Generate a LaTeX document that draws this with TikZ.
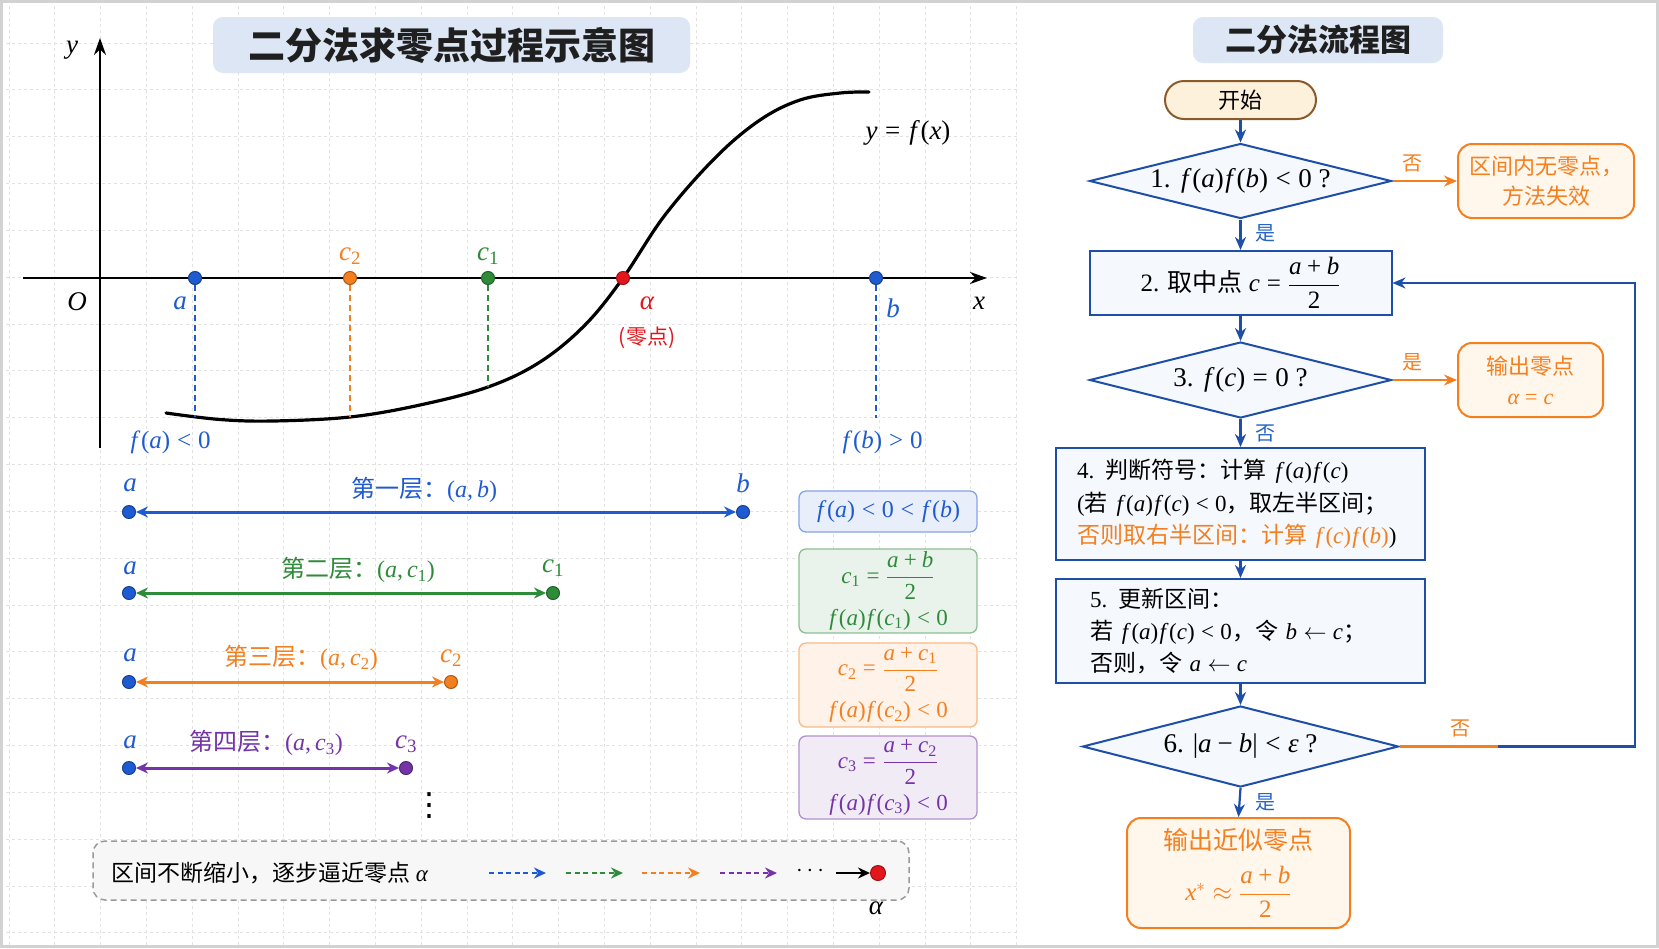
\RequirePackage{fix-cm}
\documentclass[tikz,border=0pt]{standalone}
\usepackage{amsmath}
\usepackage{fontspec}
\setmainfont{Liberation Serif}
\newfontfamily\zh{Noto Sans CJK SC}
\newfontfamily\djv{DejaVu Sans}
\edef\tmpdecl{\noexpand\DeclareSymbolFont{tit}{TU}{\rmdefault}{m}{it}\noexpand\DeclareSymbolFont{trm}{TU}{\rmdefault}{m}{n}}
\tmpdecl
\begingroup\lccode`\~=`\f \lowercase{\endgroup\def~}{\mkern1mu\Umathchar"7 \symtit `f\mkern2.5mu}
\AtBeginDocument{%
  \count255=`a
  \loop \Umathcode\count255="7 \symtit \count255 \ifnum\count255<`z \advance\count255 by 1 \repeat
  \count255=`A
  \loop \Umathcode\count255="7 \symtit \count255 \ifnum\count255<`Z \advance\count255 by 1 \repeat
  \count255=`0
  \loop \Umathcode\count255="7 \symtrm \count255 \ifnum\count255<`9 \advance\count255 by 1 \repeat
  \Umathcode`\(="4 \symtrm `\(
  \Umathcode`\)="5 \symtrm `\)
  \Umathcode`\,="6 \symtrm `\,
  \Umathcode`\+="2 \symtrm `\+
  \Umathcode`\=="3 \symtrm `\=
  \Umathcode`\<="3 \symtrm `\<
  \Umathcode`\>="3 \symtrm `\>
  \Umathcode`\-="2 \symtrm "2212
  \Umathcode`\|="0 \symtrm `\|
  \Umathchardef\alpha="7 \symtit "03B1
  \Umathchardef\varepsilon="7 \symtit "03B5
  \mathcode`\f="8000
}
\newcommand\z[1]{{\zh #1}}
\newcommand\fsz[2]{\fontsize{#1}{#2}\selectfont}
\usetikzlibrary{arrows.meta,shapes.geometric,calc}
\definecolor{cblue}{HTML}{1F5BD0}
\definecolor{cgreen}{HTML}{2E8B3A}
\definecolor{corange}{HTML}{F47F1F}
\definecolor{cpurple}{HTML}{7434A8}
\definecolor{cred}{HTML}{E3161B}
\definecolor{fblue}{HTML}{1D4EA8}
\definecolor{lblblue}{HTML}{2563C4}
\definecolor{titlebg}{HTML}{DCE6F4}
\definecolor{gridc}{HTML}{E2E2E2}
\definecolor{framec}{HTML}{D2D2D2}
\definecolor{flowfill}{HTML}{F5F8FD}
\definecolor{ofill}{HTML}{FFF6EC}
\definecolor{startfill}{HTML}{FDF1DC}
\definecolor{startdraw}{HTML}{8B5A2B}
\definecolor{dboxfill}{HTML}{F7F7F7}
\definecolor{dboxdraw}{HTML}{9A9A9A}
\tikzset{
  lbl/.style={inner sep=0pt, font={\fsz{27}{30}}},
  dotn/.style={circle, inner sep=0pt, minimum size=13pt, fill=#1, draw=#1!70!black, line width=1pt},
  gridline/.style={gridc, line width=0.8pt, dash pattern=on 3pt off 3pt},
  axisline/.style={line width=2.6pt, -{Stealth[length=17pt,width=12pt]}},
  drop/.style={#1, line width=1.6pt, dash pattern=on 6pt off 4pt},
  layer/.style={#1, line width=3pt, {Stealth[length=12pt,width=11pt]}-{Stealth[length=12pt,width=11pt]}},
  infobox/.style={draw=#1!55, fill=#1!10, rounded corners=7pt, line width=1.3pt, minimum width=178pt, text=#1, font={\fsz{23}{25}}, align=center, inner sep=0pt},
  dasharr/.style={#1, line width=2.2pt, dash pattern=on 5pt off 3.5pt, -{Stealth[length=12pt,width=11pt]}},
  titlebox/.style={rounded corners=10pt, fill=titlebg, inner sep=0pt, text=black!88},
  flow/.style={fblue, line width=2.2pt},
  farrow/.style={flow, -{Stealth[length=13pt,width=11pt]}},
  oarrow/.style={corange, line width=2.2pt, -{Stealth[length=13pt,width=11pt]}},
  dia/.style={diamond, draw=fblue, fill=flowfill, line width=2pt, inner sep=0pt, aspect=4, font={\fsz{27}{29}}},
  pbox/.style={rectangle, draw=fblue, fill=flowfill, line width=2pt, inner sep=0pt, font={\fsz{25}{27}}},
  obox/.style={rectangle, rounded corners=14pt, draw=corange, fill=ofill, line width=2pt, text=corange, align=center, inner sep=0pt, font={\fsz{22}{30}}},
  yn/.style={inner sep=0pt, font={\zh\fsz{20}{24}}},
}
\begin{document}
\begin{tikzpicture}[x=1pt,y=-1pt]
\useasboundingbox (0,0) rectangle (1659,948);
\fill[white] (0,0) rectangle (1659,948);
% grid (left panel)
\begin{scope}
\clip (0,0) rectangle (1019,948);
\foreach \i in {0,...,22} \draw[gridline] ({9+45.8*\i},0) -- ({9+45.8*\i},948);
\foreach \j in {0,...,19} \draw[gridline] (0,{43+46.83*\j}) -- (1019,{43+46.83*\j});
\end{scope}
\draw[framec, line width=3pt] (1.5,1.5) rectangle (1657.5,946.5);

% ===== left: title
\node[titlebox, minimum width=477pt, minimum height=56pt, font={\zh\bfseries\fsz{37}{40}}] (t1) at (451.5,45) {二分法求零点过程示意图};

% axes
\coordinate (yb) at (100,448); \coordinate (yt) at (100,38);
\coordinate (xl) at (23,278); \coordinate (xr) at (987,278);
\draw[axisline] (yb) -- (yt);
\draw[axisline] (xl) -- (xr);

% curve
\draw[line width=3.2pt, line cap=round] plot[smooth, tension=0.6] coordinates {(166,413) (220,419.5) (273,421) (350,417) (420,405) (488,387) (540,362) (585,325) (623,278) (665,215) (716,157) (760,120) (800,100) (840,93) (869,92)};

% points
\node[dotn=cblue] (pa) at (195,278) {};
\node[dotn=corange] (pc2) at (350,278) {};
\node[dotn=cgreen] (pc1) at (488,278) {};
\node[dotn=cred] (pal) at (623,278) {};
\node[dotn=cblue] (pb) at (876,278) {};
\coordinate (qa) at (195,417); \coordinate (qc2) at (350,417);
\coordinate (qc1) at (488,387); \coordinate (qb) at (876,418);
\draw[drop=cblue] (pa) -- (qa);
\draw[drop=corange] (pc2) -- (qc2);
\draw[drop=cgreen] (pc1) -- (qc1);
\draw[drop=cblue] (pb) -- (qb);

% axis labels
\node[lbl] (ylab) at (72,50) {$y$};
\node[lbl] (xlab) at (979,303) {$x$};
\node[lbl] (olab) at (77,302) {$O$};
\node[lbl,text=cblue] (la) at (180,303) {$a$};
\node[lbl,text=cblue] (lb) at (893,308) {$b$};
\node[lbl,text=corange] (lc2) at (350,256) {$c_2$};
\node[lbl,text=cgreen] (lc1) at (488,256) {$c_1$};
\node[lbl,text=cred] (lal) at (647,303) {$\alpha$};
\node[lbl,text=cred,font={\zh\fsz{21}{26}}] (lzd) at (647,338) {(零点)};
\node[lbl] (yfx) at (908,133) {$y=f(x)$};
\node[lbl,text=cblue,font={\fsz{25}{27}}] (lfa) at (170,442) {$f(a)<0$};
\node[lbl,text=cblue,font={\fsz{25}{27}}] (lfb) at (882,442) {$f(b)>0$};

% layers
\node[dotn=cblue] (l1a) at (129,512) {};
\node[dotn=cblue] (l1b) at (743,512) {};
\draw[layer=cblue] (l1a) -- (l1b);
\node[lbl,text=cblue] (l1al) at (130,485) {$a$};
\node[lbl,text=cblue] (l1bl) at (743,483) {$b$};
\node[lbl,text=cblue,font={\fsz{24}{28}}] (l1t) at (424,490) {\z{第一层：}$(a,b)$};

\node[dotn=cblue] (l2a) at (129,593) {};
\node[dotn=cgreen] (l2b) at (553,593) {};
\draw[layer=cgreen] (l2a) -- (l2b);
\node[lbl,text=cblue] (l2al) at (130,568) {$a$};
\node[lbl,text=cgreen] (l2bl) at (553,568) {$c_1$};
\node[lbl,text=cgreen,font={\fsz{24}{28}}] (l2t) at (358,570) {\z{第二层：}$(a,c_1)$};

\node[dotn=cblue] (l3a) at (129,682) {};
\node[dotn=corange] (l3b) at (451,682) {};
\draw[layer=corange] (l3a) -- (l3b);
\node[lbl,text=cblue] (l3al) at (130,655) {$a$};
\node[lbl,text=corange] (l3bl) at (451,658) {$c_2$};
\node[lbl,text=corange,font={\fsz{24}{28}}] (l3t) at (301,658) {\z{第三层：}$(a,c_2)$};

\node[dotn=cblue] (l4a) at (129,768) {};
\node[dotn=cpurple] (l4b) at (406,768) {};
\draw[layer=cpurple] (l4a) -- (l4b);
\node[lbl,text=cblue] (l4al) at (130,742) {$a$};
\node[lbl,text=cpurple] (l4bl) at (406,744) {$c_3$};
\node[lbl,text=cpurple,font={\fsz{24}{28}}] (l4t) at (266,743) {\z{第四层：}$(a,c_3)$};

\node[inner sep=0pt, font={\djv\fsz{32}{34}}] (vd) at (429,806) {⋮};

% info boxes
\node[infobox=cblue, minimum height=41pt, font={\fsz{24}{26}}] (ib1) at (888,511.5) {$f(a)<0<f(b)$};
\node[infobox=cgreen, minimum height=84pt] (ib2) at (888,591) {$c_1=\dfrac{a+b}{2}$\\[9pt]$f(a)f(c_1)<0$};
\node[infobox=corange, minimum height=84pt] (ib3) at (888,685) {$c_2=\dfrac{a+c_1}{2}$\\[9pt]$f(a)f(c_2)<0$};
\node[infobox=cpurple, minimum height=83pt] (ib4) at (888,777.5) {$c_3=\dfrac{a+c_2}{2}$\\[9pt]$f(a)f(c_3)<0$};

% bottom summary box
\node[draw=dboxdraw, fill=dboxfill, line width=1.5pt, dash pattern=on 6pt off 4pt, rounded corners=12pt, minimum width=816pt, minimum height=59pt, inner sep=0pt] (bb) at (501,870.5) {};
\node[anchor=west, inner sep=0pt, font={\fsz{23}{26}}] (bt) at (111,873) {\z{区间不断缩小，逐步逼近零点} $\alpha$};
\coordinate (s1) at (489,873); \coordinate (e1) at (546,873);
\coordinate (s2) at (566,873); \coordinate (e2) at (623,873);
\coordinate (s3) at (642,873); \coordinate (e3) at (700,873);
\coordinate (s4) at (720,873); \coordinate (e4) at (777,873);
\draw[dasharr=cblue] (s1) -- (e1);
\draw[dasharr=cgreen] (s2) -- (e2);
\draw[dasharr=corange] (s3) -- (e3);
\draw[dasharr=cpurple] (s4) -- (e4);
\node[inner sep=0pt, font={\fsz{24}{26}}] (cd) at (812,871) {$\cdots$};
\node[dotn=cred, minimum size=15pt] (pz) at (878,873) {};
\coordinate (s5) at (836,873);
\draw[line width=2.2pt, -{Stealth[length=12pt,width=11pt]}] (s5) -- (pz);
\node[lbl] (alz) at (876,908) {$\alpha$};

% ===== right: flowchart
\node[titlebox, minimum width=250pt, minimum height=46pt, font={\zh\bfseries\fsz{31}{34}}] (t2) at (1318,40) {二分法流程图};

\node[rectangle, rounded corners=19pt, draw=startdraw, fill=startfill, line width=2pt, minimum width=151pt, minimum height=38pt, inner sep=0pt, font={\zh\fsz{22}{26}}] (st) at (1240.5,100) {开始};
\node[dia, minimum width=302pt, minimum height=75pt] (d1) at (1240.5,181) {1. $f(a)f(b)<0$ ?};
\node[obox, minimum width=176pt, minimum height=74pt] (r1) at (1546,181) {\z{区间内无零点，}\\\z{方法失效}};
\node[pbox, minimum width=302pt, minimum height=64pt] (b2) at (1240.5,283) {2. \z{取中点} $c=\dfrac{a+b}{2}$};
\node[dia, minimum width=302pt, minimum height=76pt] (d3) at (1240.5,380) {3. $f(c)=0$ ?};
\node[obox, minimum width=145pt, minimum height=74pt] (r2) at (1530.5,380) {\z{输出零点}\\$\alpha=c$};
\node[pbox, minimum height=112pt, text width=327pt, inner xsep=21pt, align=left, font={\fsz{23}{32.5}}] (b4) at (1240.5,504) {4. \z{判断符号：计算} $f(a)f(c)$\\(\z{若} $f(a)f(c)<0$\z{，取左半区间；}\\{\color{corange}\z{否则取右半区间：计算} $f(c)f(b)$})};
\node[pbox, minimum height=104pt, text width=301pt, inner xsep=34pt, align=left, font={\fsz{23}{32}}] (b5) at (1240.5,631) {5. \z{更新区间：}\\\z{若} $f(a)f(c)<0$\z{，令} $b\leftarrow c$\z{；}\\\z{否则，令} $a\leftarrow c$};
\node[dia, minimum width=316pt, minimum height=81pt] (d6) at (1240.5,746.5) {6. $|a-b|<\varepsilon$ ?};
\node[obox, minimum width=223pt, minimum height=110pt, font={\fsz{25}{30}}] (fo) at (1238.5,873) {\z{输出近似零点}\\[14pt]$x^*\approx\dfrac{a+b}{2}$};

\draw[farrow] (st) -- (d1);
\draw[farrow] (d1) -- (b2);
\draw[farrow] (b2) -- (d3);
\draw[farrow] (d3) -- (b4);
\draw[farrow] (b4) -- (b5);
\draw[farrow] (b5) -- (d6);
\draw[farrow] (d6.south) -- (fo.north);
\draw[oarrow] (d1) -- (r1);
\draw[oarrow] (d3) -- (r2);
\coordinate (lp) at (1498,746.5);
\coordinate (lc) at (1635,746.5);
\draw[corange, line width=2.2pt] (d6.east) -- (lp);
\draw[farrow] (lp) -- (lc) |- (b2.east);

\node[yn, text=corange] (n1) at (1412,163) {否};
\node[yn, text=lblblue] (y1) at (1265,233) {是};
\node[yn, text=corange] (y3) at (1412,362) {是};
\node[yn, text=lblblue] (n3) at (1265,433) {否};
\node[yn, text=corange] (n6) at (1460,728) {否};
\node[yn, text=lblblue] (y6) at (1265,802) {是};
\end{tikzpicture}
\end{document}
